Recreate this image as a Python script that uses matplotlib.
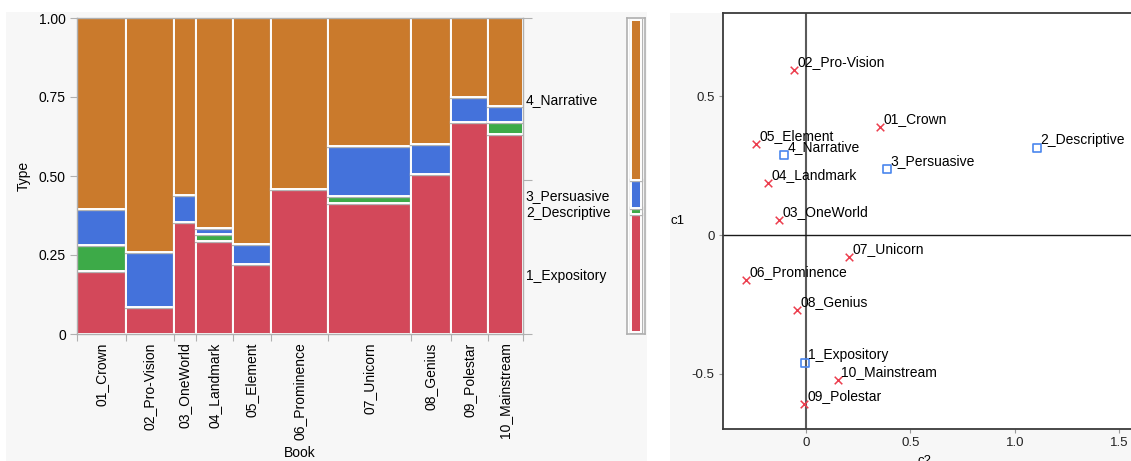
import numpy as np
import matplotlib
matplotlib.use("Agg")
import matplotlib.pyplot as plt
from matplotlib.patches import Rectangle
import matplotlib.patheffects as pe

plt.rcParams['font.family'] = ['Liberation Sans', 'DejaVu Sans']

# ---- data -------------------------------------------------------------
books = ['01_Crown', '02_Pro-Vision', '03_OneWorld', '04_Landmark', '05_Element',
         '06_Prominence', '07_Unicorn', '08_Genius', '09_Polestar', '10_Mainstream']
book_size = [49, 48, 22, 37, 38, 57, 83, 40, 37, 35]

types = ['1_Expository', '2_Descriptive', '3_Persuasive', '4_Narrative']
expository = [0.200, 0.085, 0.355, 0.295, 0.220, 0.460, 0.415, 0.505, 0.670, 0.633]
descriptive = [0.082, 0.000, 0.000, 0.022, 0.000, 0.000, 0.022, 0.000, 0.000, 0.038]
persuasive = [0.114, 0.175, 0.085, 0.020, 0.065, 0.000, 0.158, 0.095, 0.080, 0.050]

type_colors = ['#D3485A', '#3DAA48', '#4472DB', '#CA7A2C']

# correspondence analysis coordinates (c2, c1)
book_c2 = [0.354, -0.057, -0.129, -0.182, -0.239, -0.287, 0.206, -0.043, -0.010, 0.153]
book_c1 = [0.388, 0.594, 0.054, 0.187, 0.327, -0.162, -0.079, -0.270, -0.608, -0.522]
type_c2 = [-0.005, 1.105, 0.388, -0.105]
type_c1 = [-0.460, 0.313, 0.237, 0.288]

# ---- figure -----------------------------------------------------------
W, H = 1131, 461
fig = plt.figure(figsize=(W / 100, H / 100), dpi=100)


def px_axes(x0, y0, x1, y1):
    """Axes from pixel box (top-left origin)."""
    return fig.add_axes([x0 / W, 1 - y1 / H, (x1 - x0) / W, (y1 - y0) / H])


# panel backgrounds
fig.patches.append(Rectangle((6 / W, 0), (647 - 6) / W, 1 - 12 / H,
                             transform=fig.transFigure, facecolor='#F7F7F7',
                             edgecolor='none', zorder=-10))
fig.patches.append(Rectangle((670 / W, 0), (W - 670) / W, 1 - 13 / H,
                             transform=fig.transFigure, facecolor='#F7F7F7',
                             edgecolor='none', zorder=-10))

frame_gray = '#B0B0B0'
cell_fx = [pe.Stroke(linewidth=2.4, foreground='#B4B4B4'),
           pe.Stroke(linewidth=1.4, foreground='white')]

# ---- mosaic -----------------------------------------------------------
ax = px_axes(77, 18, 523, 334)
shares = np.array(book_size, float) / sum(book_size)
edges = np.concatenate([[0], np.cumsum(shares)])
exp_a = np.array(expository)
des_a = np.array(descriptive)
per_a = np.array(persuasive)
nar_a = 1 - exp_a - des_a - per_a
stack = np.vstack([exp_a, des_a, per_a, nar_a])

for i in range(len(books)):
    bottom = 0.0
    for k in range(4):
        h = stack[k, i]
        if h > 0:
            r = Rectangle((edges[i], bottom), shares[i], h,
                          facecolor=type_colors[k], edgecolor='none')
            r.set_path_effects(cell_fx)
            ax.add_patch(r)
        bottom += h

ax.set_xlim(0, 1)
ax.set_ylim(0, 1)
ax.set_facecolor('white')
for s in ax.spines.values():
    s.set_color(frame_gray)
    s.set_linewidth(1)

ax.set_yticks([0, 0.25, 0.5, 0.75, 1.0])
ax.set_yticklabels(['0', '0.25', '0.50', '0.75', '1.00'])
ax.tick_params(axis='y', length=5, color=frame_gray, labelsize=10, pad=3)
ax.set_xticks(edges)
ax.set_xticklabels([])
ax.set_xticks((edges[:-1] + edges[1:]) / 2, minor=True)
ax.set_xticklabels(books, minor=True, rotation=90, fontsize=10)
ax.tick_params(axis='x', which='major', length=5, color=frame_gray)
ax.tick_params(axis='x', which='minor', length=0, pad=6)
ax.set_ylabel('Type', fontsize=10, labelpad=6)
ax.set_xlabel('Book', fontsize=10, labelpad=4)

# overall composition (marginal)
overall = stack @ shares
cum = np.concatenate([[0], np.cumsum(overall)])
mids = (cum[:-1] + cum[1:]) / 2

axr = ax.twinx()
axr.set_ylim(0, 1)
for s in axr.spines.values():
    s.set_visible(False)
axr.set_yticks([0, cum[3], 1])
axr.set_yticklabels([])
axr.set_yticks(mids, minor=True)
axr.set_yticklabels(types, minor=True, fontsize=10)
axr.tick_params(axis='y', which='major', length=6.5, color=frame_gray)
axr.tick_params(axis='y', which='minor', length=0, pad=2)

axm = px_axes(627, 18, 645, 334)
for k in range(4):
    r = Rectangle((0.22, cum[k]), 0.56, overall[k],
                  facecolor=type_colors[k], edgecolor='none')
    r.set_path_effects(cell_fx)
    axm.add_patch(r)
axm.set_xlim(0, 1)
axm.set_ylim(-0.008, 1.008)
axm.set_xticks([])
axm.set_yticks([])
axm.set_facecolor('white')
for s in axm.spines.values():
    s.set_color(frame_gray)
    s.set_linewidth(1.2)

# ---- correspondence plot ----------------------------------------------
x_left, x_right = 723, 1136
axs = px_axes(x_left, 13, x_right, 429)
axs.set_facecolor('white')
x0_val = -0.397
px_per_unit = 209.0
axs.set_xlim(x0_val, x0_val + (x_right - x_left) / px_per_unit)
axs.set_ylim(-0.698, 0.799)
axs.axvline(0, color='#5A5A5A', lw=1.5, zorder=1)
axs.axhline(0, color='#1A1A1A', lw=1.0, zorder=1)

axs.scatter(book_c2, book_c1, marker='x', s=30, color='#EC3E4E',
            linewidths=1.1, zorder=3)
axs.scatter(type_c2, type_c1, marker='s', s=38, facecolors='none',
            edgecolors='#4A86EE', linewidths=1.2, zorder=3)
for x, y, t in zip(book_c2, book_c1, books):
    axs.annotate(t, (x, y), xytext=(2.5, 3), textcoords='offset points',
                 fontsize=10, ha='left', va='baseline', zorder=4)
for x, y, t in zip(type_c2, type_c1, types):
    axs.annotate(t, (x, y), xytext=(2.5, 3), textcoords='offset points',
                 fontsize=10, ha='left', va='baseline', zorder=4)

for s in axs.spines.values():
    s.set_color('#3A3A3A')
    s.set_linewidth(1.3)
axs.set_xticks([0, 0.5, 1.0, 1.5])
axs.set_xticklabels(['0', '0.5', '1.0', '1.5'])
axs.set_yticks([-0.5, 0, 0.5])
axs.set_yticklabels(['-0.5', '0', '0.5'])
axs.tick_params(length=3, color='#999999', labelsize=9.5, labelcolor='#222222', pad=3)
axs.set_ylabel('c1', rotation=0, fontsize=9.5, labelpad=10, va='center')
axs.set_xlabel('c2', fontsize=9.5)
axs.xaxis.set_label_coords((925 - x_left) / (x_right - x_left), -0.062)

fig.savefig('out.png', dpi=100)
